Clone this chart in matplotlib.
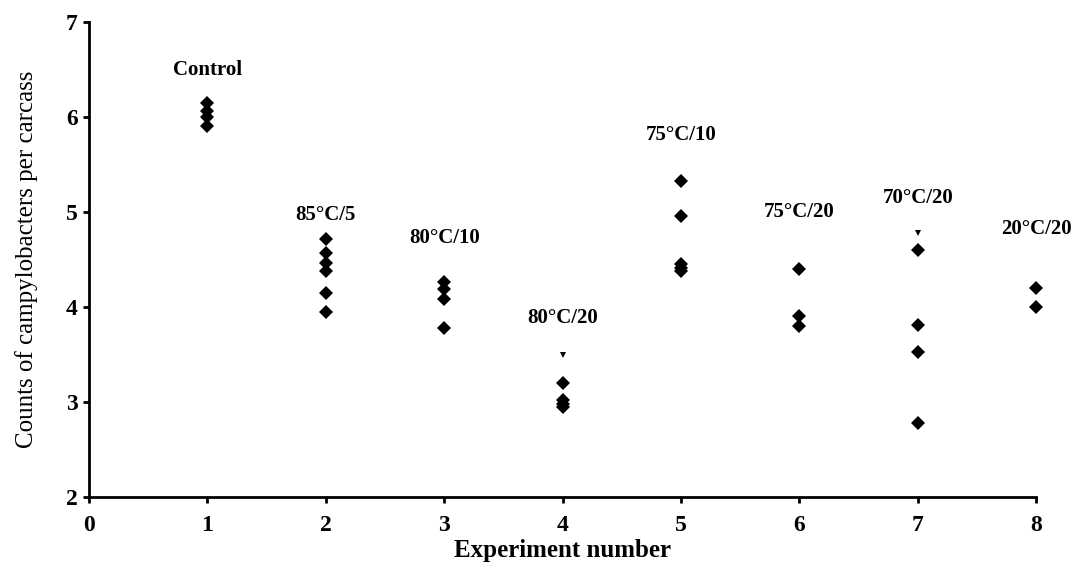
import matplotlib
matplotlib.use("Agg")
import matplotlib.pyplot as plt

experiments = [1, 2, 3, 4, 5, 6, 7, 8]
labels = ["Control", "85°C/5", "80°C/10", "80°C/20", "75°C/10", "75°C/20", "70°C/20", "20°C/20"]
counts = [
    [6.15, 6.06, 6.0, 5.9],
    [4.72, 4.57, 4.46, 4.38, 4.15, 3.95],
    [4.26, 4.19, 4.08, 3.78],
    [3.2, 3.02, 2.98, 2.95],
    [5.33, 4.96, 4.45, 4.41, 4.38],
    [4.40, 3.90, 3.80],
    [4.60, 3.81, 3.53, 2.78],
    [4.20, 4.00],
]
# points drawn as small down-triangles
tri_x = [4, 7]
tri_y = [3.49, 4.78]
label_y = [6.49, 4.97, 4.73, 3.88, 5.81, 5.0, 5.15, 4.82]

plt.rcParams['font.family'] = ['Liberation Serif', 'DejaVu Serif']

fig = plt.figure(figsize=(10.85, 5.74), dpi=100)
ax = fig.add_axes([0.082, 0.134, 0.873, 0.828])

for x, ys in zip(experiments, counts):
    ax.plot([x] * len(ys), ys, linestyle='none', marker='D', markersize=7,
            color='black', markeredgewidth=0, clip_on=False)
ax.plot(tri_x, tri_y, linestyle='none', marker='v', markersize=5, color='black',
        markeredgewidth=0, clip_on=False)

for x, lab, ly in zip(experiments, labels, label_y):
    ax.text(x, ly, lab, ha='center', va='center', fontsize=15, fontweight='bold')

ax.set_xlim(0, 8)
ax.set_ylim(2, 7)
ax.set_xticks(range(0, 9))
ax.set_yticks(range(2, 8))
for s in ['top', 'right']:
    ax.spines[s].set_visible(False)
for s in ['left', 'bottom']:
    ax.spines[s].set_linewidth(2)
ax.tick_params(axis='both', direction='out', length=4, width=2, labelsize=17, pad=4)
ax.tick_params(axis='x', pad=9)
for t in ax.get_xticklabels() + ax.get_yticklabels():
    t.set_fontweight('bold')

ax.set_xlabel('Experiment number', fontsize=18, fontweight='bold', labelpad=2)
ax.set_ylabel('Counts of campylobacters per carcass', fontsize=18, labelpad=20)

fig.savefig('out.png', dpi=100)
